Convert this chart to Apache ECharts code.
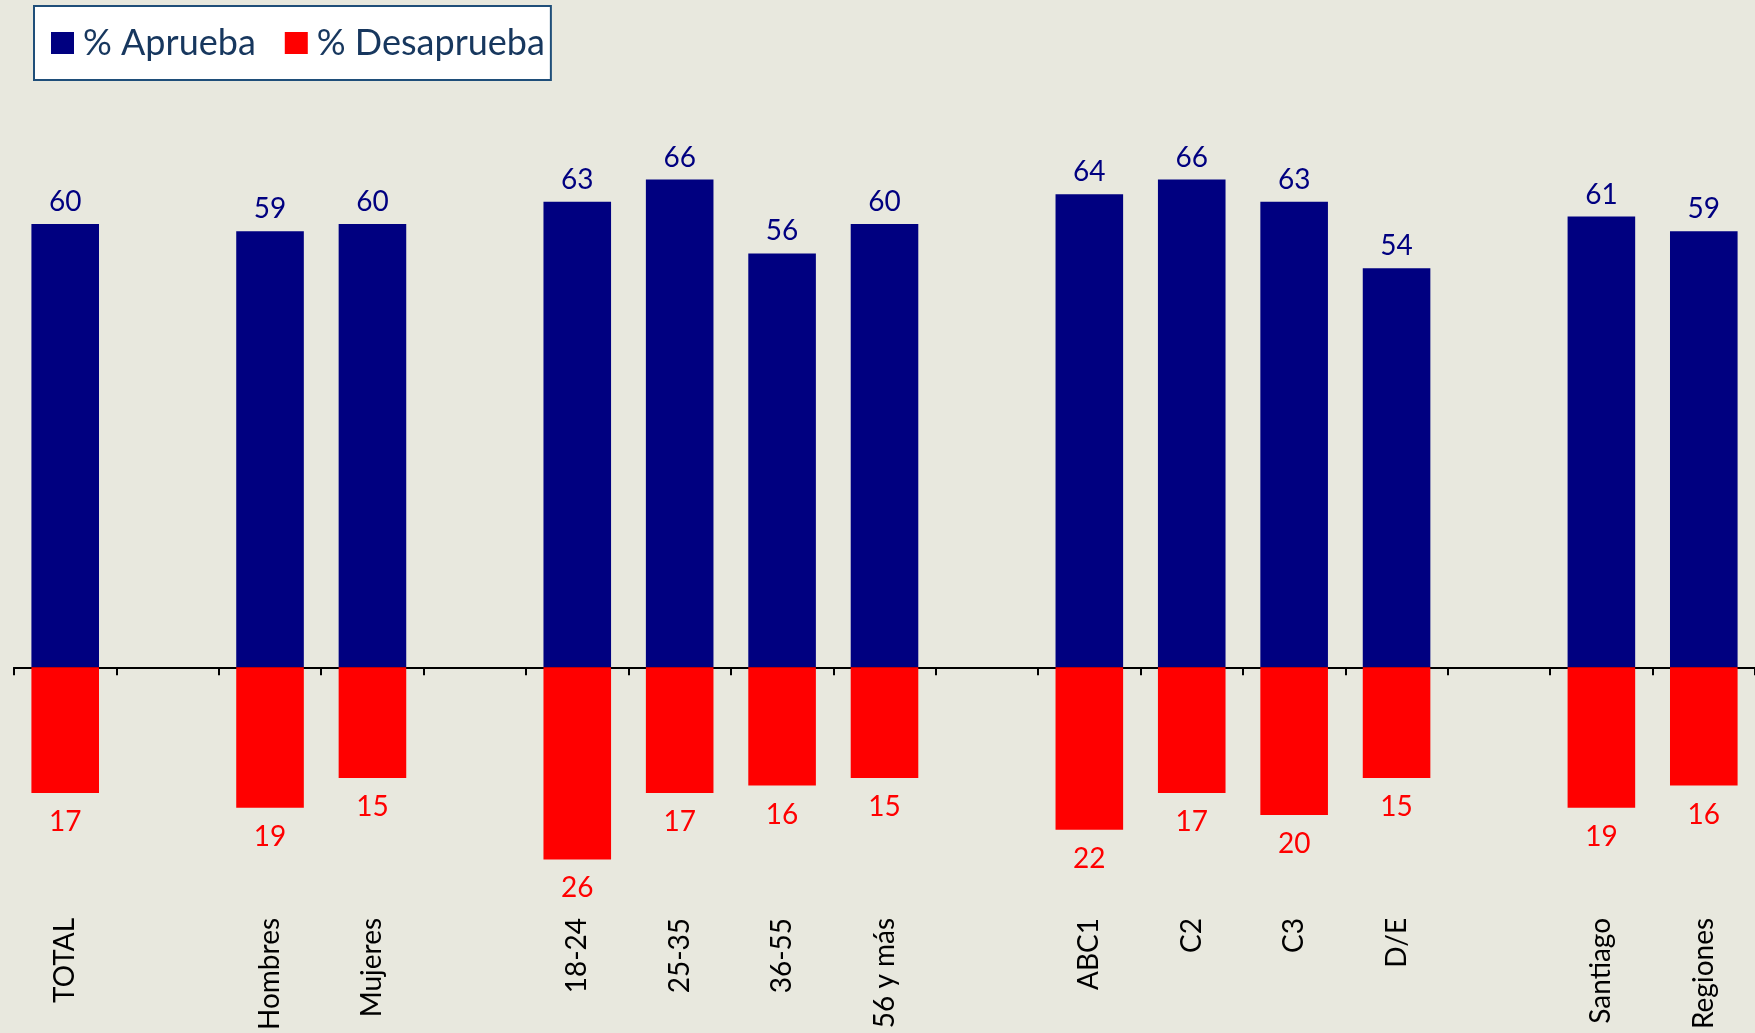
<!DOCTYPE html>
<html>
<head>
<meta charset="utf-8">
<script src="https://cdn.jsdelivr.net/npm/echarts@6/dist/echarts.min.js"></script>
<style>
html,body{margin:0;padding:0;background:#e8e8de;}
#c{width:1755px;height:1033px;}
</style>
</head>
<body>
<div id="c"></div>
<script>
var categories = ['TOTAL', '', 'Hombres', 'Mujeres', '', '18-24', '25-35', '36-55', '56 y más', '', 'ABC1', 'C2', 'C3', 'D/E', '', 'Santiago', 'Regiones'];
var aprueba = [60, null, 59, 60, null, 63, 66, 56, 60, null, 64, 66, 63, 54, null, 61, 59];
var desaprueba = [17, null, 19, 15, null, 26, 17, 16, 15, null, 22, 17, 20, 15, null, 19, 16];

var FONT = 'Lato';
var chart = echarts.init(document.getElementById('c'), null, {renderer: 'canvas'});
chart.setOption({
  backgroundColor: '#e8e8de',
  animation: false,
  legend: {
    left: 34, top: 6,
    orient: 'horizontal',
    backgroundColor: '#ffffff',
    borderColor: '#1f4e79',
    borderWidth: 2,
    padding: [19, 6, 19, 17],
    itemWidth: 23, itemHeight: 22,
    itemGap: 29,
    textStyle: {fontFamily: FONT, fontSize: 36, color: '#17375e', padding: [0, 0, 0, 4]},
    data: [{name: '% Aprueba', icon: 'rect'}, {name: '% Desaprueba', icon: 'rect'}]
  },
  grid: {left: 14, right: 0, top: 150, bottom: 137},
  xAxis: [{
    type: 'category',
    data: categories,
    axisLine: {show: true, onZero: true, lineStyle: {color: '#000', width: 2}},
    axisTick: {show: true, length: 8, interval: 0, lineStyle: {color: '#000', width: 2}},
    axisLabel: {show: false}
  }, {
    type: 'category',
    data: categories,
    position: 'bottom',
    axisLine: {show: false, onZero: false},
    axisTick: {show: false},
    axisLabel: {show: true, interval: 0, rotate: 90, margin: 29, fontFamily: FONT, fontSize: 28, color: '#000'}
  }],
  yAxis: {type: 'value', min: -30, max: 70, show: false, splitLine: {show: false}},
  series: [{
    name: '% Aprueba',
    type: 'bar',
    stack: 'a',
    barWidth: '66%',
    itemStyle: {color: '#000080'},
    label: {show: true, position: 'top', distance: 8, fontFamily: FONT, fontSize: 28, color: '#000080'},
    data: aprueba
  }, {
    name: '% Desaprueba',
    type: 'bar',
    stack: 'a',
    barWidth: '66%',
    itemStyle: {color: '#ff0000'},
    label: {show: true, position: 'bottom', distance: 15, fontFamily: FONT, fontSize: 28, color: '#ff0000',
      formatter: function (p) { return Math.abs(p.value); }},
    data: desaprueba.map(function (v) { return v == null ? null : -v; })
  }]
});
</script>
</body>
</html>
